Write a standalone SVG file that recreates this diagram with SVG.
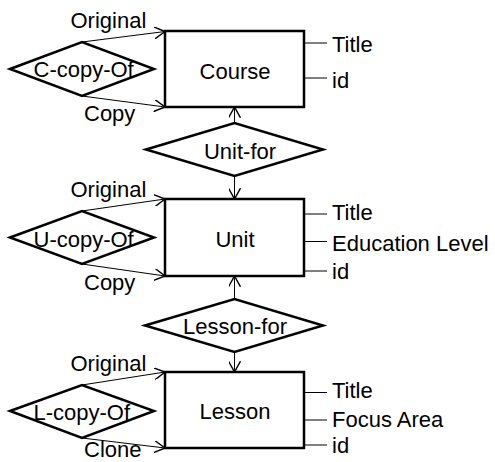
<svg xmlns="http://www.w3.org/2000/svg" width="495" height="462" viewBox="0 0 495 462">
<defs>
<marker id="arr" markerUnits="userSpaceOnUse" markerWidth="12" markerHeight="12" refX="9" refY="5" viewBox="0 0 10 10" orient="auto">
<path d="M0,0 L9,5 L0,10" fill="none" stroke="#000" stroke-width="1.2"/>
</marker>
<style>
text{font-family:"Liberation Sans",Arial,sans-serif;font-size:22px;fill:#000}
.box{fill:#fff;stroke:#000;stroke-width:2.5}
.dia{fill:#fff;stroke:#000;stroke-width:2.5;stroke-linejoin:miter}
.con{stroke:#000;stroke-width:1;fill:none;marker-end:url(#arr)}
.att{stroke:#000;stroke-width:1}
.mid{text-anchor:middle}
</style>
</defs>
<rect width="495" height="462" fill="#fff"/>
<g id="connectors">
<line class="con" x1="82" y1="42" x2="165" y2="31.5"/>
<line class="con" x1="82" y1="96" x2="165" y2="107"/>
<line class="con" x1="82" y1="211" x2="165" y2="199"/>
<line class="con" x1="82" y1="264" x2="165" y2="276"/>
<line class="con" x1="82" y1="385" x2="165" y2="372"/>
<line class="con" x1="82" y1="438" x2="165" y2="448"/>
<line class="con" x1="234.5" y1="123" x2="234.5" y2="107"/>
<line class="con" x1="234.5" y1="176" x2="234.5" y2="199"/>
<line class="con" x1="234.5" y1="299" x2="234.5" y2="276"/>
<line class="con" x1="234.5" y1="352" x2="234.5" y2="372"/>
<line class="att" x1="304" y1="43" x2="327" y2="43"/>
<line class="att" x1="304" y1="78" x2="327" y2="78"/>
<line class="att" x1="304" y1="214" x2="327" y2="214"/>
<line class="att" x1="304" y1="241.5" x2="327" y2="241.5"/>
<line class="att" x1="304" y1="271" x2="327" y2="271"/>
<line class="att" x1="304" y1="392.5" x2="327" y2="392.5"/>
<line class="att" x1="304" y1="420" x2="327" y2="420"/>
<line class="att" x1="304" y1="445" x2="327" y2="445"/>
<text x="70.5" y="27.5">Original</text>
<text x="84" y="121">Copy</text>
<text x="70.5" y="196.5">Original</text>
<text x="84" y="289.5">Copy</text>
<text x="70.5" y="371">Original</text>
<text x="84" y="457">Clone</text>
</g>
<g id="course">
<rect class="box" x="165" y="31" width="139" height="76"/>
<text class="mid" x="235" y="78.5">Course</text>
<text x="332" y="51.7">Title</text>
<text x="332" y="88">id</text>
</g>
<g id="unit">
<rect class="box" x="165" y="199" width="139" height="77"/>
<text class="mid" x="235" y="246.7">Unit</text>
<text x="332" y="220">Title</text>
<text x="332" y="251">Education Level</text>
<text x="332" y="278.5">id</text>
</g>
<g id="lesson">
<rect class="box" x="165" y="372" width="139" height="76"/>
<text class="mid" x="235" y="419.3">Lesson</text>
<text x="332" y="397.5">Title</text>
<text x="332" y="427.3">Focus Area</text>
<text x="332" y="452.7">id</text>
</g>
<g id="c-copy-of">
<polygon class="dia" points="10,69 82,42 154,69 82,96"/>
<text x="33.5" y="77">C-copy-Of</text>
</g>
<g id="u-copy-of">
<polygon class="dia" points="10,237.5 82,211 154,237.5 82,264"/>
<text x="33.5" y="247.3">U-copy-Of</text>
</g>
<g id="l-copy-of">
<polygon class="dia" points="10,411 82,385 154,411 82,438"/>
<text x="33.5" y="420">L-copy-Of</text>
</g>
<g id="unit-for">
<polygon class="dia" points="146,149.5 234.5,123 323,149.5 234.5,176"/>
<text class="mid" x="240" y="159.3">Unit-for</text>
</g>
<g id="lesson-for">
<polygon class="dia" points="145,325.5 234.5,299 323,325.5 234.5,352"/>
<text class="mid" x="235" y="334.3">Lesson-for</text>
</g>
</svg>
